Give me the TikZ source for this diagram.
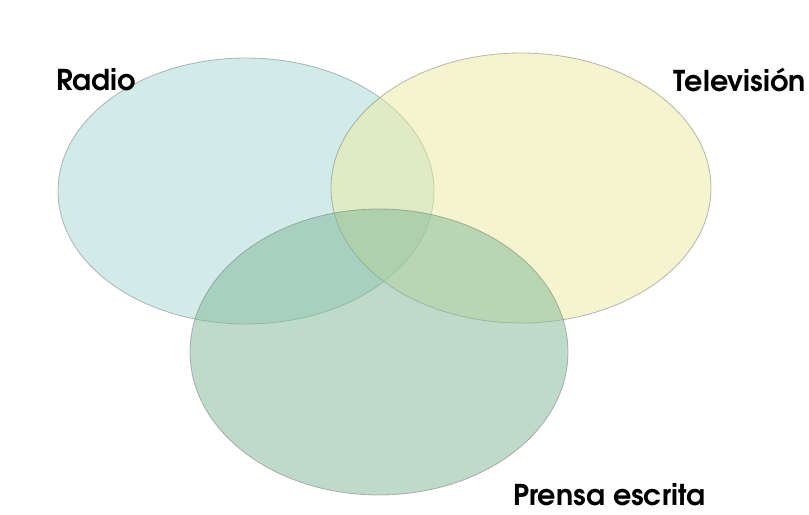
\documentclass[tikz,border=0pt]{standalone}
\usepackage{fontspec}
\setmainfont{TeX Gyre Adventor}
\usepackage{tikz}
\pgfdeclarelayer{background}
\pgfdeclarelayer{foreground}
\pgfsetlayers{background,main,foreground}
\definecolor{radiocol}{RGB}{165,217,213}
\definecolor{tvcol}{RGB}{235,235,159}
\definecolor{prensacol}{RGB}{127,185,151}
\tikzset{
  circulo/.style={fill opacity=0.5, draw=black!55, draw opacity=0.5, line width=0.6pt},
  rotulo/.style={font=\fontsize{21.5}{25}\selectfont\bfseries, inner sep=0pt}
}

\begin{document}
\begin{tikzpicture}[x=0.75pt,y=-0.75pt]
\useasboundingbox (0,0) rectangle (809,514);
\begin{pgfonlayer}{background}
\fill[white] (0,0) rectangle (809,514);
\end{pgfonlayer}
\draw[circulo, fill=radiocol] (246,191) ellipse [x radius=188, y radius=133];
\draw[circulo, fill=tvcol] (521,188) ellipse [x radius=190, y radius=135];
\draw[circulo, fill=prensacol] (379,352) ellipse [x radius=189, y radius=143];
\begin{pgfonlayer}{foreground}
\node[rotulo, anchor=west] (radio) at (56,80) {Radio};
\node[rotulo, anchor=east] (tele) at (806,80) {Televisión};
\node[rotulo, anchor=west] (prensa) at (513,495) {Prensa escrita};
\end{pgfonlayer}
\end{tikzpicture}
\end{document}
